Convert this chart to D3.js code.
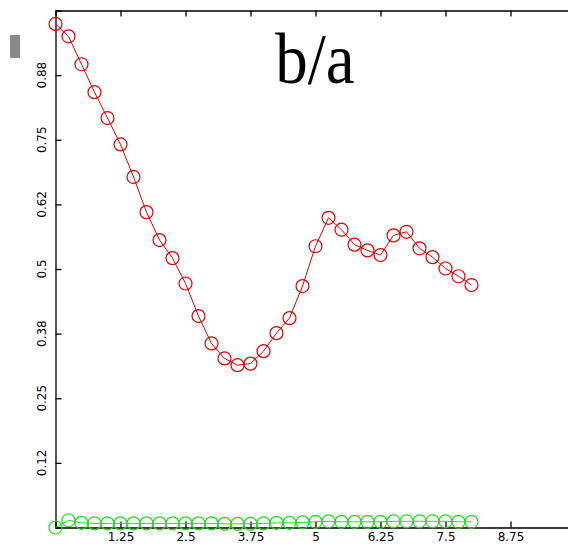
<!DOCTYPE html>
<html>
<head>
<meta charset="utf-8">
<script src="https://cdn.jsdelivr.net/npm/d3@7/dist/d3.min.js"></script>
<style>
  html, body { margin: 0; padding: 0; background: #fff; overflow: hidden; }
  svg { display: block; }
</style>
</head>
<body>
<svg id="chart" width="568" height="549"></svg>
<script>
const xValues = d3.range(33).map(i => i * 0.25);
const redSeries = [0.974, 0.950, 0.896, 0.842, 0.792, 0.741, 0.678, 0.610, 0.556, 0.521,
  0.472, 0.409, 0.356, 0.327, 0.314, 0.317, 0.341, 0.376, 0.405, 0.467,
  0.544, 0.599, 0.576, 0.547, 0.536, 0.527, 0.565, 0.572, 0.540, 0.523,
  0.501, 0.486, 0.469];
const greenSeries = [0.000, 0.014, 0.009, 0.008, 0.008, 0.008, 0.008, 0.008, 0.008, 0.008,
  0.008, 0.008, 0.008, 0.007, 0.007, 0.007, 0.008, 0.009, 0.009, 0.010,
  0.011, 0.012, 0.011, 0.011, 0.011, 0.011, 0.012, 0.012, 0.012, 0.012,
  0.012, 0.011, 0.011];
const xTicks = [1.25, 2.5, 3.75, 5, 6.25, 7.5, 8.75];
const xTickLabels = ["1.25", "2.5", "3.75", "5", "6.25", "7.5", "8.75"];
const yTicks = [0.125, 0.25, 0.375, 0.5, 0.625, 0.75, 0.875];
const yTickLabels = ["0.12", "0.25", "0.38", "0.5", "0.62", "0.75", "0.88"];
const chartTitle = "b/a";

const svg = d3.select("#chart");
const x = d3.scaleLinear().domain([0, 10]).range([55.5, 575.5]);
const y = d3.scaleLinear().domain([0, 1]).range([527.5, 10.5]);

// gray marker at top-left
svg.append("rect").attr("x", 10).attr("y", 35).attr("width", 10).attr("height", 23).attr("fill", "#8a8a8a");

// axes
const tickLen = 6;
const axBottom = svg.append("g").attr("transform", `translate(0,${y(0)})`)
  .call(d3.axisBottom(x).tickValues(xTicks).tickSize(-tickLen).tickPadding(5)
    .tickFormat((d, i) => xTickLabels[i]));
const axTop = svg.append("g").attr("transform", `translate(0,${y(1)})`)
  .call(d3.axisTop(x).tickValues(xTicks).tickSize(-tickLen).tickFormat(""));
const axLeft = svg.append("g").attr("transform", `translate(${x(0)},0)`)
  .call(d3.axisLeft(y).tickValues(yTicks).tickSize(-tickLen).tickFormat(""));

[axBottom, axTop, axLeft].forEach(g => {
  g.select(".domain").attr("stroke", "#000").attr("stroke-width", 1.3);
  g.selectAll(".tick line").attr("stroke", "#000").attr("stroke-width", 1.3);
});
axBottom.selectAll("text").attr("font-family", "'DejaVu Sans', sans-serif")
  .attr("font-size", 12).attr("fill", "#000");

// rotated y labels
svg.append("g").selectAll("text").data(yTicks).join("text")
  .attr("transform", d => `translate(45.5,${y(d)}) rotate(-90)`)
  .attr("text-anchor", "middle")
  .attr("font-family", "'DejaVu Sans', sans-serif")
  .attr("font-size", 12)
  .attr("fill", "#000")
  .text((d, i) => yTickLabels[i]);

// series
const line = d3.line().x((d, i) => x(xValues[i])).y(d => y(d));
function drawSeries(values, color) {
  svg.append("path").datum(values).attr("d", line)
    .attr("fill", "none").attr("stroke", color).attr("stroke-width", 1);
  svg.append("g").selectAll("circle").data(values).join("circle")
    .attr("cx", (d, i) => x(xValues[i])).attr("cy", d => y(d)).attr("r", 6.5)
    .attr("fill", "none").attr("stroke", color).attr("stroke-width", 1.2);
}
drawSeries(greenSeries, "#22dd22");
drawSeries(redSeries, "#e00000");

// title
svg.append("text").attr("transform", "translate(315,83) scale(1,1.12)")
  .attr("text-anchor", "middle")
  .attr("font-family", "'Liberation Serif', 'Times New Roman', serif")
  .attr("font-size", 65).attr("fill", "#000").text(chartTitle);
</script>
</body>
</html>
